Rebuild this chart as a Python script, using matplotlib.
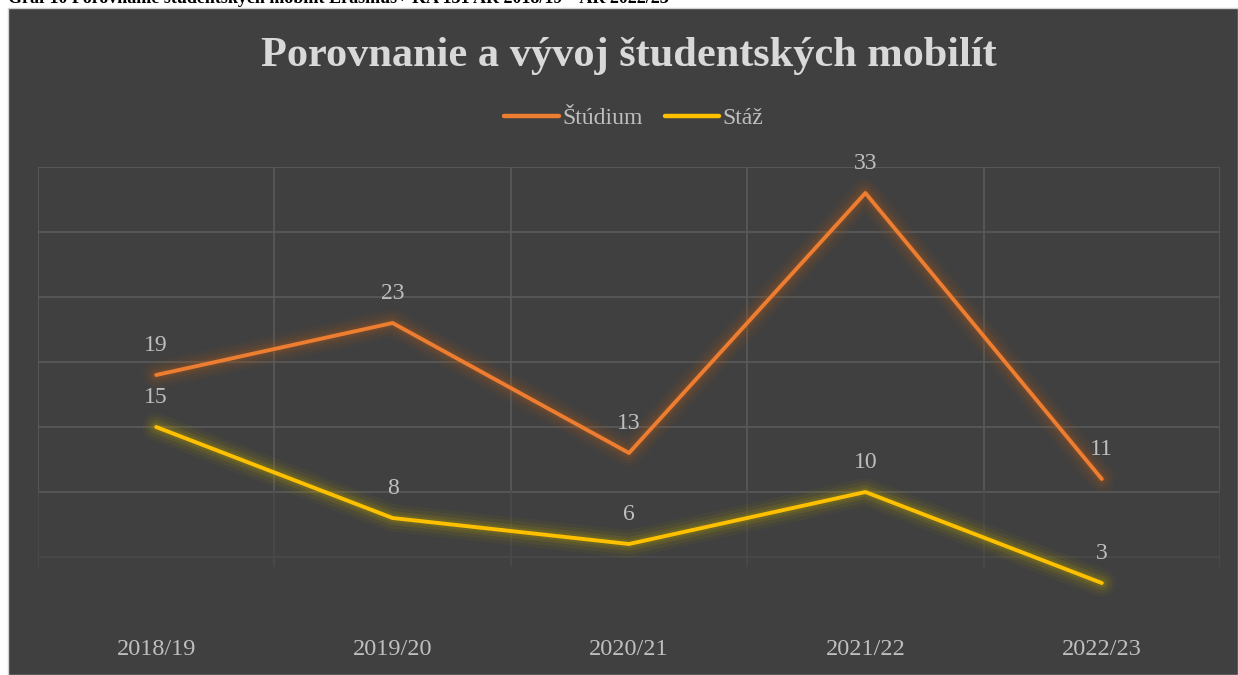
import matplotlib
matplotlib.use('Agg')
import matplotlib.pyplot as plt
import matplotlib.patheffects as pe
from matplotlib.patches import Rectangle

# data
years = ['2018/19', '2019/20', '2020/21', '2021/22', '2022/23']
studium = [19, 23, 13, 33, 11]
staz = [15, 8, 6, 10, 3]

W, H = 1238, 675
fig = plt.figure(figsize=(W / 100, H / 100), dpi=100)
fig.patch.set_facecolor('white')

# dark chart area
fig.patches.append(Rectangle((8 / W, 0), 1 - 8 / W, 1 - 8 / H, transform=fig.transFigure,
                             facecolor='#404040', edgecolor='#d0d0d0', linewidth=1, zorder=-5))

# caption clipped at the top
fig.text(8 / W, 1 - 3 / H, 'Graf 10 Porovnanie študentských mobilít Erasmus+ KA 131 AR 2018/19 – AR 2022/23',
         family='Liberation Serif', weight='bold', fontsize=13, color='black', va='baseline', zorder=-6)

ax = fig.add_axes([38 / W, (H - 622) / H, (1220 - 38) / W, (622 - 167) / H])
ax.set_facecolor('none')
x = list(range(len(years)))
ax.set_xlim(-0.5, 4.5)
ax.set_ylim(0, 35)
for s in ax.spines.values():
    s.set_visible(False)
ax.set_xticks([])
ax.set_yticks([])

# grid, fading towards the bottom
for v in range(10, 36, 5):
    ax.axhline(v, color='#5a5a5a', lw=1.2, zorder=1)
ax.axhline(5, color='#4a4a4a', lw=1.2, zorder=1)
for b in [-0.5, 0.5, 1.5, 2.5, 3.5, 4.5]:
    ax.plot([b, b], [10, 35], color='#5a5a5a', lw=1.2, zorder=1)
    ax.plot([b, b], [4.3, 10], color='#4a4a4a', lw=1.2, zorder=1)

def glow(col):
    return [pe.Stroke(linewidth=20, foreground=col, alpha=0.06),
            pe.Stroke(linewidth=15, foreground=col, alpha=0.09),
            pe.Stroke(linewidth=10, foreground=col, alpha=0.14),
            pe.Stroke(linewidth=6, foreground=col, alpha=0.2),
            pe.Normal()]

orange = '#ed7d31'
yellow = '#ffc000'
l1, = ax.plot(x, studium, color=orange, lw=2.8, solid_capstyle='round', zorder=3,
              path_effects=glow('#a8581c'), label='Štúdium')
l2, = ax.plot(x, staz, color=yellow, lw=2.8, solid_capstyle='round', zorder=3,
              path_effects=glow('#b09a00'), label='Stáž')

for xi, v in zip(x, studium):
    ax.annotate(str(v), (xi, v), xytext=(0, 14), textcoords='offset points', ha='center',
                va='bottom', family='Liberation Serif', fontsize=17, color='#bfbfbf')
for xi, v in zip(x, staz):
    ax.annotate(str(v), (xi, v), xytext=(0, 14), textcoords='offset points', ha='center',
                va='bottom', family='Liberation Serif', fontsize=17, color='#bfbfbf')

for xi, lab in zip(x, years):
    ax.text(xi, -2.15, lab, ha='center', va='center', family='Liberation Serif',
            fontsize=17.5, color='#bfbfbf')

fig.text(629 / W, 1 - 56 / H, 'Porovnanie a vývoj študentských mobilít', ha='center', va='center',
         family='Liberation Serif', weight='bold', fontsize=30.5, color='#d9d9d9')

leg = fig.legend(handles=[l1, l2], loc='center', bbox_to_anchor=(634 / W, 1 - 118 / H),
                 ncol=2, frameon=False, prop={'family': 'Liberation Serif', 'size': 17},
                 handlelength=2.3, handletextpad=0.15, columnspacing=0.95, labelcolor='#bfbfbf')
for h in leg.legend_handles:
    h.set_path_effects([pe.Normal()])
    h.set_linewidth(3.2)

fig.savefig('out.png', dpi=100)
